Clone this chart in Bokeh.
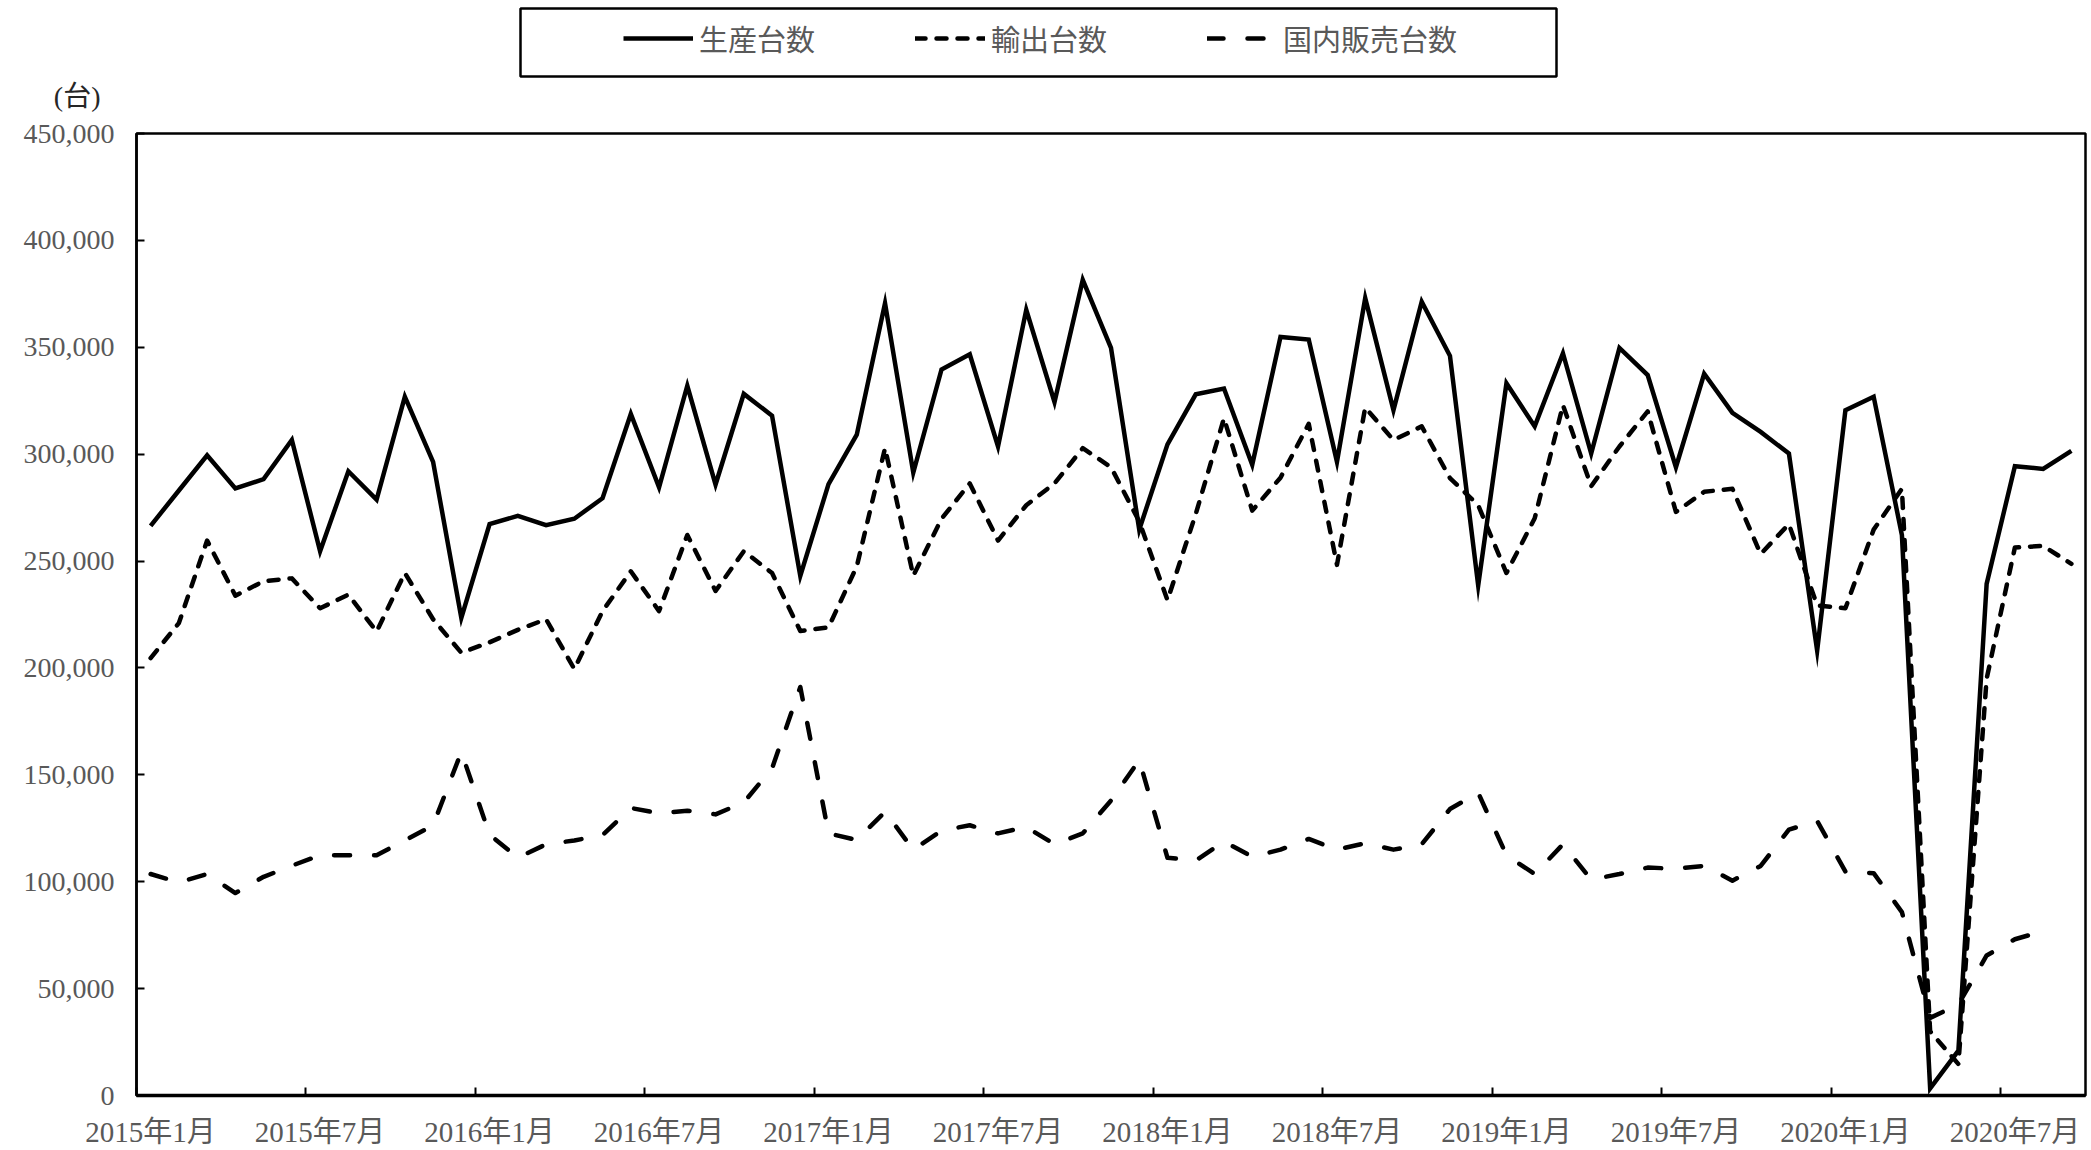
from bokeh.plotting import figure
from bokeh.models import (Range1d, FixedTicker, LinearAxis, NumeralTickFormatter,
                          Legend, LegendItem, Label, BoxAnnotation)
from bokeh.layouts import column
from bokeh.embed import file_html
from bokeh.resources import INLINE

# ---- data (units: 台), monthly from 2015年1月 to 2020年9月 ----
tick_labels = ["2015年1月", "2015年7月", "2016年1月", "2016年7月", "2017年1月", "2017年7月",
               "2018年1月", "2018年7月", "2019年1月", "2019年7月", "2020年1月", "2020年7月"]

production = [266500, 283000, 299500, 284000, 288300, 306600, 254600, 292000, 278700, 326900,
              296400, 223400, 267300, 271100, 266800, 269800, 279400, 318800, 284500, 332000,
              285800, 328200, 318000, 243100, 286000, 309100, 370600, 291400, 339600, 346700,
              303600, 367500, 324400, 381500, 349700, 264700, 304600, 328000, 330700, 295000,
              354800, 353600, 296400, 373000, 320600, 371300, 346000, 238600, 333200, 313000,
              347200, 300300, 349700, 337000, 293900, 337600, 319300, 310400, 300300, 208100,
              320600, 326900, 262200, 3300, 21000, 239300, 294400, 293100, 301500]

exports = [204600, 221000, 259600, 233800, 240600, 241900, 227900, 234300, 217000, 244400,
           222800, 207100, 212000, 217800, 222800, 199500, 226600, 245200, 226600, 262200,
           236000, 254600, 244400, 217300, 219000, 247500, 302800, 243100, 269800, 286300,
           259600, 276100, 286300, 302800, 293900, 268500, 231700, 272000, 316800, 273600,
           289000, 314200, 248200, 321800, 306600, 313000, 288800, 276100, 244400, 270000,
           323000, 285000, 303600, 320000, 273000, 282400, 283800, 253300, 267300, 229200,
           227900, 264700, 283800, 30000, 14700, 195000, 256300, 257100, 248700]

domestic = [103600, 99700, 103600, 94700, 102300, 107500, 112400, 112400, 112400, 119300,
            126400, 160700, 122000, 111200, 117500, 119300, 121800, 134500, 132000, 133200,
            131500, 137100, 153000, 191100, 122600, 119500, 132700, 115000, 123900, 126400,
            122600, 125600, 117500, 122600, 138000, 156900, 111200, 109900, 118800, 111700,
            115000, 120000, 115000, 118000, 115000, 117500, 134000, 141600, 112400, 103600,
            117500, 101000, 103600, 106600, 106100, 107400, 100500, 107400, 124400, 128400,
            104800, 104000, 85800, 36300, 42600, 65500, 73100, 76900]

series_names = ["生産台数", "輸出台数", "国内販売台数"]
unit_label = "(台)"

FONT = "'Liberation Serif', 'Noto Sans CJK JP'"
GRAY = "#595959"
W = 2091
TOP_H = 115
MAIN_H = 1150 - TOP_H

styles = [dict(line_color="black", line_width=4.5, line_join="miter"),
          dict(line_color="black", line_width=4.5, line_dash="10 11", line_cap="round",
               line_join="round"),
          dict(line_color="black", line_width=4.5, line_dash="16 24", line_cap="round",
               line_join="round")]

n = len(production)
x = [i + 0.5 for i in range(n)]
tick_pos = list(range(0, n, 6))            # category boundaries
label_pos = [t + 0.5 for t in tick_pos]    # category centres

# ---------------- main chart ----------------
p = figure(width=W, height=MAIN_H, output_backend="svg", toolbar_location=None,
           x_range=Range1d(0, n), y_range=Range1d(0, 450000),
           x_axis_type=None, y_axis_type=None,
           min_border_left=136, min_border_top=133 - TOP_H, min_border_right=6,
           min_border_bottom=55)
p.xgrid.visible = False
p.ygrid.visible = False
p.outline_line_color = "black"
p.outline_line_width = 2.5
p.background_fill_color = "white"
p.border_fill_color = "white"

yaxis = LinearAxis(ticker=FixedTicker(ticks=list(range(0, 450001, 50000))),
                   formatter=NumeralTickFormatter(format="0,0"))
yaxis.major_tick_in = 8
yaxis.major_tick_out = 0
yaxis.major_tick_line_width = 2
yaxis.minor_tick_line_color = None
yaxis.axis_line_width = 2.5
yaxis.axis_line_color = "black"
yaxis.major_label_text_font = FONT
yaxis.major_label_text_font_size = "28px"
yaxis.major_label_text_color = GRAY
yaxis.major_label_standoff = 22
p.add_layout(yaxis, "left")

xt = LinearAxis(ticker=FixedTicker(ticks=tick_pos))
xt.major_label_overrides = {t: "" for t in tick_pos}
xt.major_label_text_font_size = "0px"
xt.major_label_standoff = 0
xt.major_tick_in = 8
xt.major_tick_out = 0
xt.major_tick_line_width = 2
xt.minor_tick_line_color = None
xt.axis_line_width = 3.5
xt.axis_line_color = "black"
p.add_layout(xt, "below")

xl = LinearAxis(ticker=FixedTicker(ticks=label_pos))
xl.major_label_overrides = {lp: lab for lp, lab in zip(label_pos, tick_labels)}
xl.major_tick_line_color = None
xl.minor_tick_line_color = None
xl.axis_line_color = None
xl.major_label_standoff = 14
xl.major_label_text_font = FONT
xl.major_label_text_font_size = "29px"
xl.major_label_text_color = GRAY
p.add_layout(xl, "below")

p.line(x, production, **styles[0])
p.line(x, exports, **styles[1])
p.line(x[:len(domestic)], domestic, **styles[2])

# ---------------- header: legend and unit ----------------
top = figure(width=W, height=TOP_H, output_backend="svg", toolbar_location=None,
             x_range=Range1d(0, W), y_range=Range1d(TOP_H, 0),
             x_axis_type=None, y_axis_type=None,
             min_border_left=0, min_border_right=0, min_border_top=0, min_border_bottom=0)
top.frame_align = False
top.outline_line_color = None
top.background_fill_color = "white"
top.border_fill_color = "white"

top.add_layout(BoxAnnotation(left=520, right=1556, top=8, bottom=76,
                             fill_color="white", fill_alpha=1.0,
                             line_color="black", line_alpha=1.0, line_width=2.5))

nan = float("nan")
dummies = [top.line([nan], [nan], **s) for s in styles]
legend = Legend(items=[LegendItem(label=nm, renderers=[r]) for nm, r in zip(series_names, dummies)],
                orientation="horizontal", location=(623, TOP_H - 42 - 17), padding=0, margin=0,
                spacing=100, glyph_width=70, glyph_height=34, label_height=34,
                label_standoff=6, border_line_color=None, background_fill_alpha=0,
                label_text_font=FONT, label_text_font_size="29px",
                label_text_color=GRAY)
top.add_layout(legend, "center")

top.add_layout(Label(x=100, y=96, text=unit_label, text_align="right",
                     text_baseline="middle", text_font=FONT,
                     text_font_size="28px", text_color="#262626"))

layout = column(top, p, spacing=0)
open("out.html", "w").write(file_html(layout, INLINE))
